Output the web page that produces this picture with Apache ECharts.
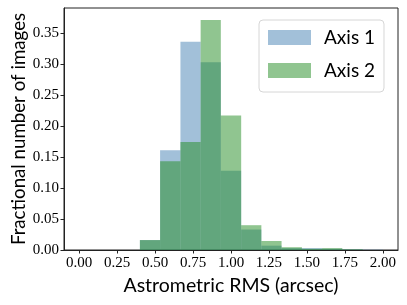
<!DOCTYPE html>
<html>
<head>
<meta charset="utf-8">
<script src="https://cdn.jsdelivr.net/npm/echarts@6/dist/echarts.min.js"></script>
<style>html,body{margin:0;padding:0;background:#fff;}#c{width:407px;height:305px;}</style>
</head>
<body>
<div id="c"></div>
<script>
// Histogram bin edges (arcsec)
var binEdges = [0.000, 0.133, 0.267, 0.400, 0.533, 0.667, 0.800, 0.933, 1.067, 1.200, 1.333, 1.467, 1.600, 1.733, 1.867, 2.000];
// Fractional number of images per bin
var axis1 = [0, 0, 0, 0.016, 0.161, 0.336, 0.303, 0.128, 0.033, 0.007, 0.003, 0.003, 0.002, 0.001, 0.0005];
var axis2 = [0, 0, 0, 0.016, 0.143, 0.174, 0.371, 0.217, 0.040, 0.0145, 0.0045, 0.002, 0.003, 0.001, 0];
var seriesNames = ['Axis 1', 'Axis 2'];
var xTicks = [0, 0.25, 0.5, 0.75, 1.0, 1.25, 1.5, 1.75, 2.0];
var yTicks = [0, 0.05, 0.10, 0.15, 0.20, 0.25, 0.30, 0.35];

function toData(vals) {
  var out = [];
  for (var i = 0; i < vals.length; i++) out.push([binEdges[i], binEdges[i + 1], vals[i]]);
  return out;
}
function renderBar(params, api) {
  var x0 = api.value(0), x1 = api.value(1), y = api.value(2);
  var p0 = api.coord([x0, 0]);
  var p1 = api.coord([x1, y]);
  return {
    type: 'rect',
    shape: { x: p0[0], y: p1[1], width: p1[0] - p0[0], height: p0[1] - p1[1] },
    style: api.style()
  };
}
var serif = '"Liberation Serif", "DejaVu Serif", serif';
var sans = 'Lato, "Open Sans", sans-serif';
var chart = echarts.init(document.getElementById('c'), null, { renderer: 'canvas' });
chart.setOption({
  animation: false,
  backgroundColor: '#fff',
  grid: { left: 64, right: 9, top: 8, bottom: 55, containLabel: false, outerBoundsMode: 'none',
    show: true, borderColor: '#222', borderWidth: 1, backgroundColor: 'transparent' },
  legend: {
    left: 259, top: 20, orient: 'vertical',
    itemWidth: 43, itemHeight: 15, itemGap: 14,
    padding: [8, 9, 12, 9],
    backgroundColor: '#fff', borderColor: '#d6d6d6', borderWidth: 1, borderRadius: 4,
    icon: 'rect',
    textStyle: { fontFamily: sans, fontSize: 19, color: '#000', padding: [0, 0, 0, 8], lineHeight: 15 },
    data: seriesNames
  },
  xAxis: {
    type: 'value', min: -0.1, max: 2.1,
    name: 'Astrometric RMS (arcsec)', nameLocation: 'middle', nameGap: 26, nameMoveOverlap: false,
    nameTextStyle: { fontFamily: sans, fontSize: 19.5, color: '#000' },
    axisLine: { show: true, onZero: false, lineStyle: { color: '#222', width: 1 } },
    axisTick: { show: true, length: 3.5, lineStyle: { color: '#222' }, customValues: xTicks },
    axisLabel: { customValues: xTicks, margin: 6, fontFamily: serif, fontSize: 15, color: '#000',
      formatter: function (v) { return v.toFixed(2); } },
    splitLine: { show: false }
  },
  yAxis: {
    type: 'value', min: 0, max: 0.3903,
    name: 'Fractional number of images', nameLocation: 'middle', nameGap: 36, nameMoveOverlap: false,
    nameTextStyle: { fontFamily: sans, fontSize: 18.7, color: '#000' },
    axisLine: { show: true, onZero: false, lineStyle: { color: '#222', width: 1 } },
    axisTick: { show: true, length: 3.5, lineStyle: { color: '#222' }, customValues: yTicks },
    axisLabel: { customValues: yTicks, margin: 5, fontFamily: serif, fontSize: 15, color: '#000',
      formatter: function (v) { return v.toFixed(2); } },
    splitLine: { show: false }
  },
  series: [
    { name: seriesNames[0], type: 'custom', renderItem: renderBar, encode: { x: [0, 1], y: 2 },
      itemStyle: { color: 'rgba(70,130,180,0.5)' }, data: toData(axis1) },
    { name: seriesNames[1], type: 'custom', renderItem: renderBar, encode: { x: [0, 1], y: 2 },
      itemStyle: { color: 'rgba(34,139,34,0.5)' }, data: toData(axis2) }
  ]
});
</script>
</body>
</html>
